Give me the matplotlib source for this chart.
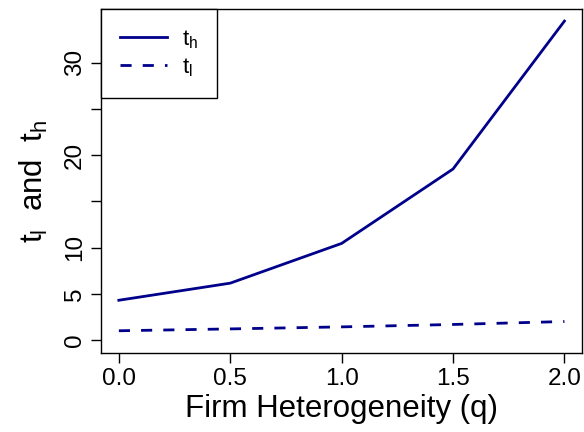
import matplotlib
matplotlib.use('Agg')
from matplotlib import pyplot as plt

plt.rcParams['font.family'] = ['Liberation Sans', 'DejaVu Sans']
plt.rcParams['mathtext.fontset'] = 'custom'
plt.rcParams['mathtext.rm'] = 'Liberation Sans'
plt.rcParams['mathtext.it'] = 'Liberation Sans'

q = [0.0, 0.5, 1.0, 1.5, 2.0]
t_h = [4.3, 6.15, 10.45, 18.5, 34.5]
t_l = [1.0, 1.2, 1.42, 1.68, 2.0]
yticks = [0, 5, 10, 15, 20, 25, 30]
ylabels = ['0', '5', '10', '', '20', '', '30']
xticks = [0.0, 0.5, 1.0, 1.5, 2.0]

fig = plt.figure(figsize=(5.84, 4.32), dpi=100)
ax = fig.add_axes([0.173, 0.183, 0.824, 0.796])
ax.plot(q, t_h, c='#00008B', lw=2.0, label=r'$\mathregular{t_h}$')
ax.plot(q, t_l, c='#00008B', lw=2.0, ls=(0, (4, 4)), label=r'$\mathregular{t_l}$')

ax.set_xlim(-0.08, 2.08)
ax.set_ylim(-1.4, 35.8)
ax.set_xticks(xticks)
ax.set_xticklabels(['%.1f' % v for v in xticks])
ax.set_yticks(yticks)
ax.set_yticklabels(ylabels, rotation=90, va='center')
ax.tick_params(axis='both', direction='out', length=7, width=1, labelsize=17.5, pad=4)
for s in ax.spines.values():
    s.set_linewidth(1)
ax.set_xlabel('Firm Heterogeneity (q)', fontsize=22.5, labelpad=3)
ax.set_ylabel(r'$\mathregular{t_l}$  and  $\mathregular{t_h}$', fontsize=22.5, labelpad=10)

leg = ax.legend(loc='upper left', bbox_to_anchor=(0, 1), borderaxespad=0, fancybox=False,
                edgecolor='black', framealpha=1, fontsize=16, handlelength=2.1,
                borderpad=0.85, labelspacing=0.25, handletextpad=0.7)
leg.get_frame().set_linewidth(1)

plt.savefig('out.png', dpi=100)
